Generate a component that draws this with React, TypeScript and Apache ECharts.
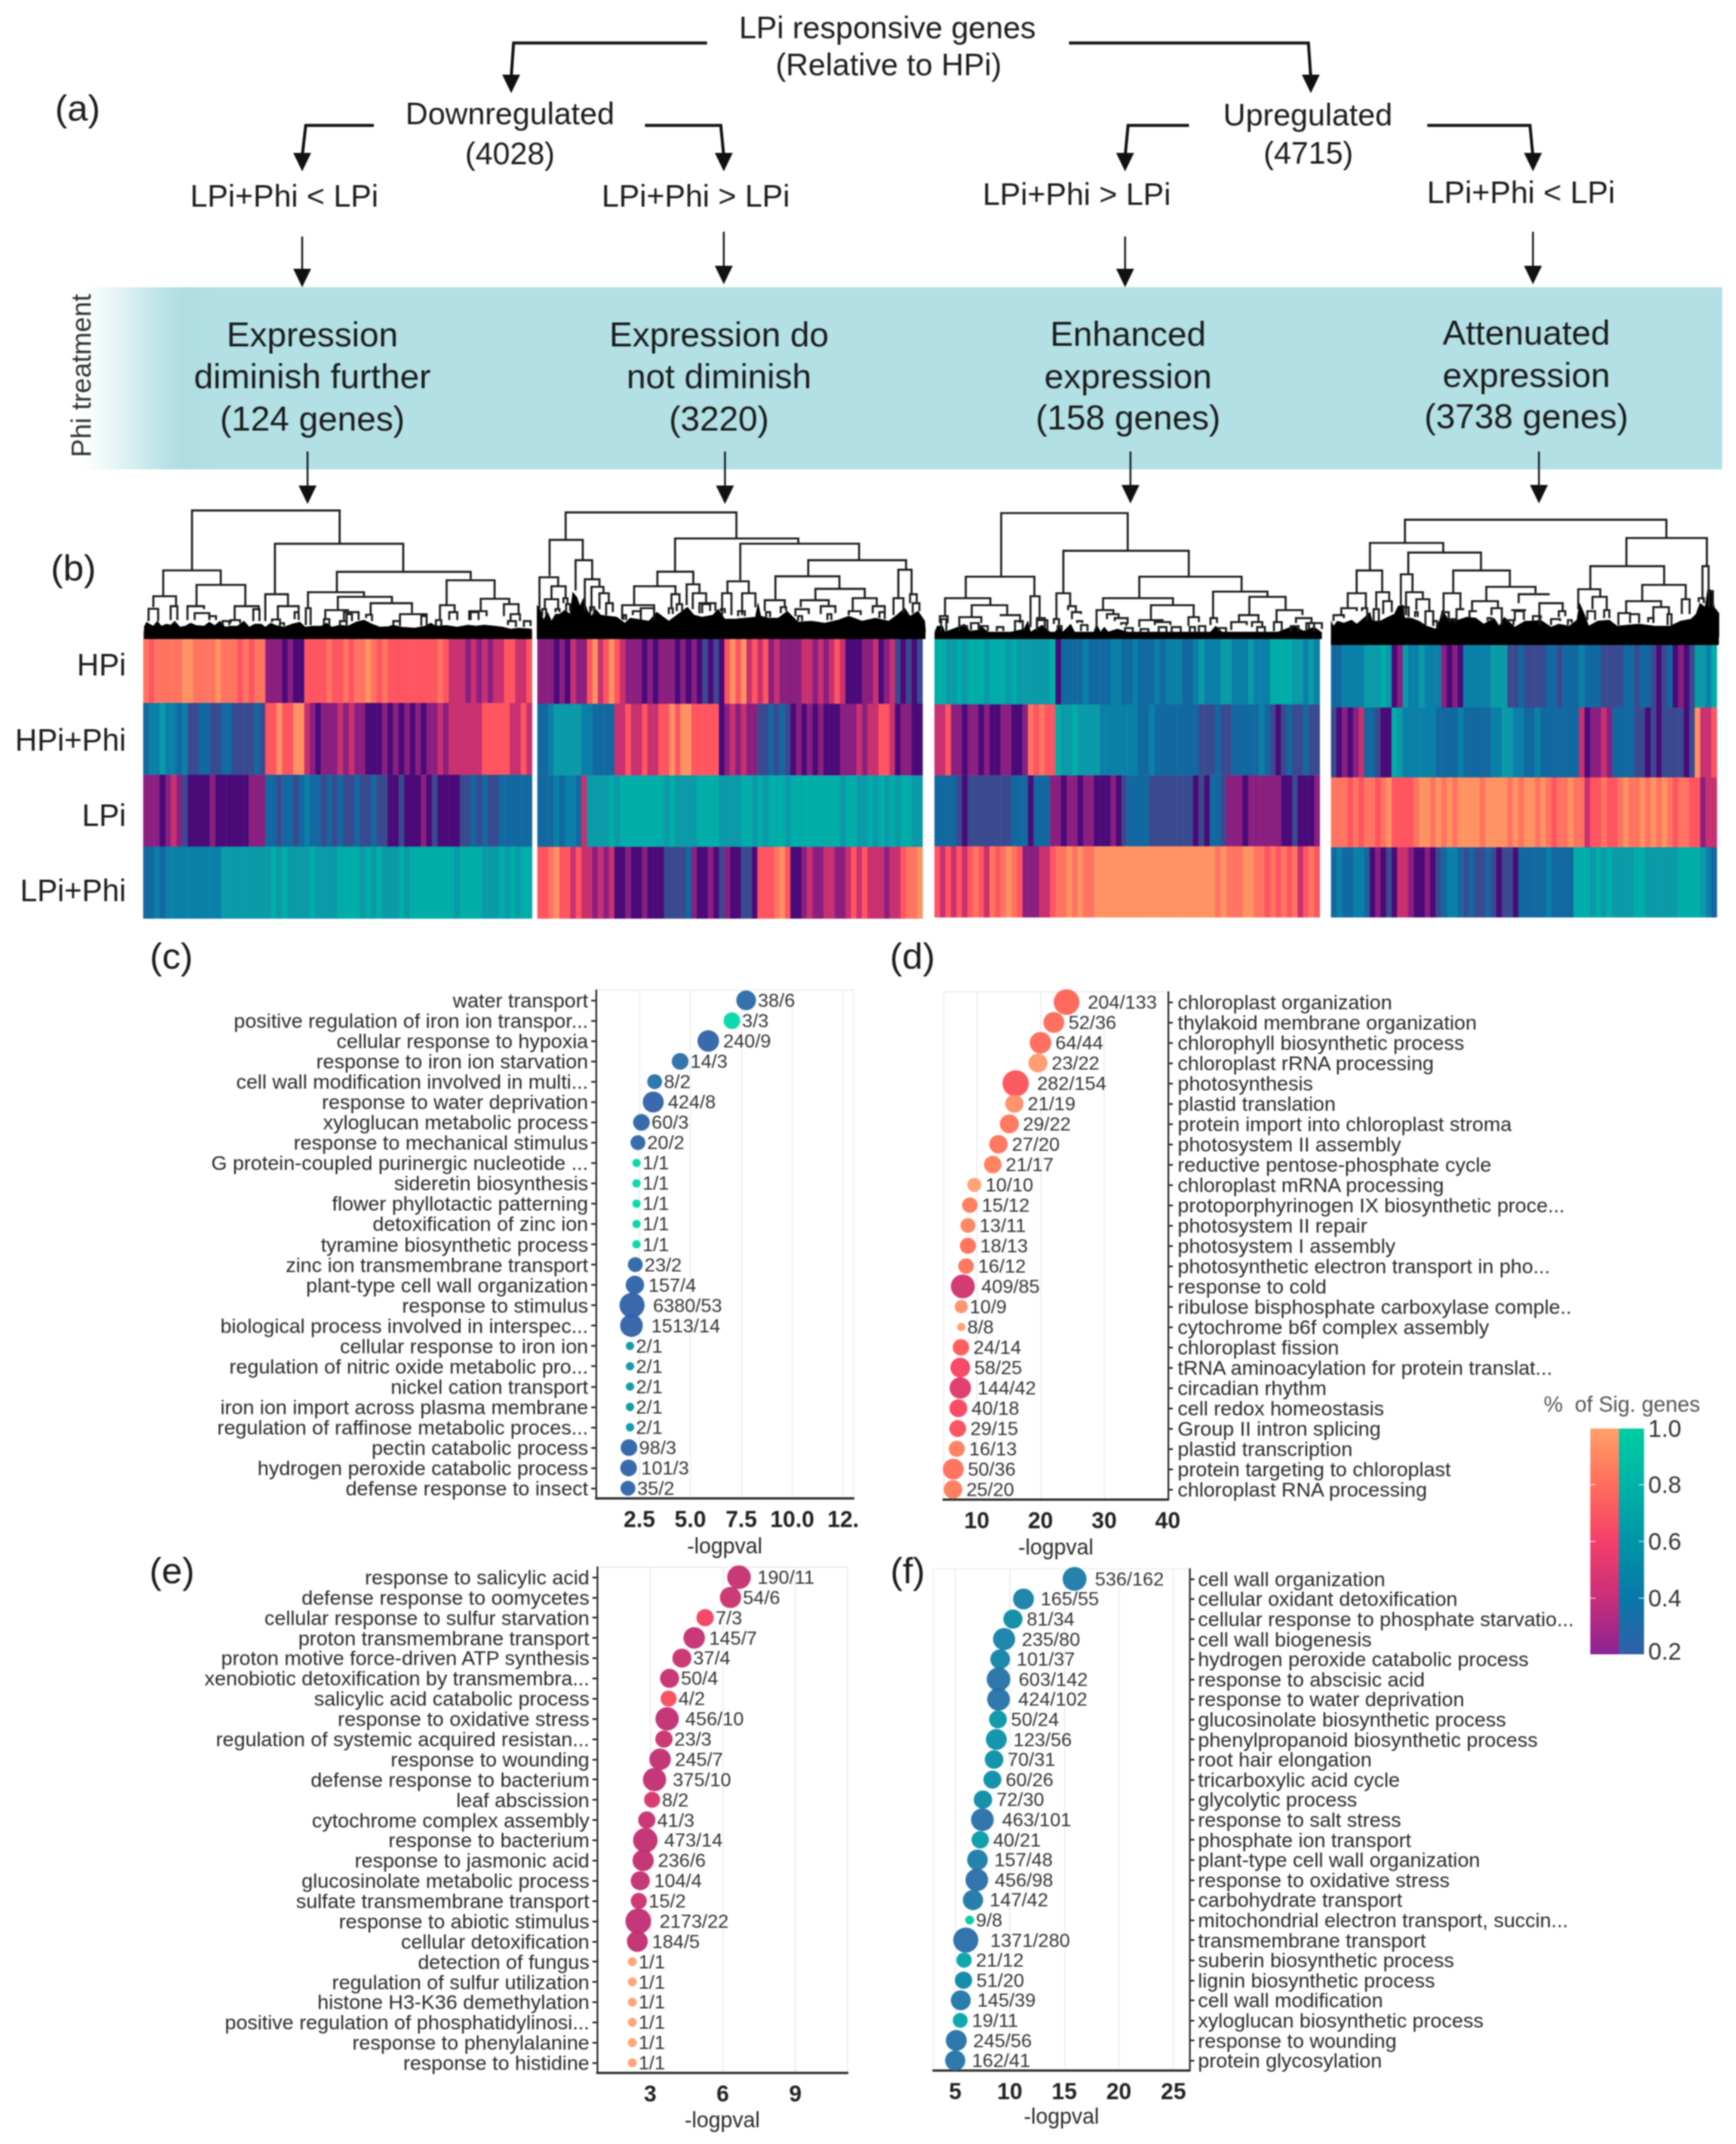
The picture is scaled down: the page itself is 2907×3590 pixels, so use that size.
import React, { useEffect, useRef } from "react";
import * as echarts from "echarts";

const FONT = "Liberation Sans";

// ---------- panel (c)
const termsC = ["water transport","positive regulation of iron ion transpor...","cellular response to hypoxia","response to iron ion starvation","cell wall modification involved in multi...","response to water deprivation","xyloglucan metabolic process","response to mechanical stimulus","G protein-coupled purinergic nucleotide ...","sideretin biosynthesis","flower phyllotactic patterning","detoxification of zinc ion","tyramine biosynthetic process","zinc ion transmembrane transport","plant-type cell wall organization","response to stimulus","biological process involved in interspec...","cellular response to iron ion","regulation of nitric oxide metabolic pro...","nickel cation transport","iron ion import across plasma membrane","regulation of raffinose metabolic proces...","pectin catabolic process","hydrogen peroxide catabolic process","defense response to insect"];
const logpC = [7.74,7.04,5.88,4.5,3.25,3.18,2.6,2.43,2.36,2.36,2.36,2.36,2.36,2.3,2.28,2.14,2.11,2.04,2.04,2.04,2.04,2.04,1.99,1.97,1.94];
const countsC = ["38/6","3/3","240/9","14/3","8/2","424/8","60/3","20/2","1/1","1/1","1/1","1/1","1/1","23/2","157/4","6380/53","1513/14","2/1","2/1","2/1","2/1","2/1","98/3","101/3","35/2"];
// ---------- panel (d)
const termsD = ["chloroplast organization","thylakoid membrane organization","chlorophyll biosynthetic process","chloroplast rRNA processing","photosynthesis","plastid translation","protein import into chloroplast stroma","photosystem II assembly","reductive pentose-phosphate cycle","chloroplast mRNA processing","protoporphyrinogen IX biosynthetic proce...","photosystem II repair","photosystem I assembly","photosynthetic electron transport in pho...","response to cold","ribulose bisphosphate carboxylase comple..","cytochrome b6f complex assembly","chloroplast fission","tRNA aminoacylation for protein translat...","circadian rhythm","cell redox homeostasis","Group II intron splicing","plastid transcription","protein targeting to chloroplast","chloroplast RNA processing"];
const logpD = [24.1,22.1,20,19.6,16.1,15.9,15.1,13.4,12.5,9.6,8.9,8.6,8.6,8.3,7.8,7.55,7.55,7.5,7.4,7.4,7.1,7,6.85,6.3,6.25];
const countsD = ["204/133","52/36","64/44","23/22","282/154","21/19","29/22","27/20","21/17","10/10","15/12","13/11","18/13","16/12","409/85","10/9","8/8","24/14","58/25","144/42","40/18","29/15","16/13","50/36","25/20"];
// ---------- panel (e)
const termsE = ["response to salicylic acid","defense response to oomycetes","cellular response to sulfur starvation","proton transmembrane transport","proton motive force-driven ATP synthesis","xenobiotic detoxification by transmembra...","salicylic acid catabolic process","response to oxidative stress","regulation of systemic acquired resistan...","response to wounding","defense response to bacterium","leaf abscission","cytochrome complex assembly","response to bacterium","response to jasmonic acid","glucosinolate metabolic process","sulfate transmembrane transport","response to abiotic stimulus","cellular detoxification","detection of fungus","regulation of sulfur utilization","histone H3-K36 demethylation","positive regulation of phosphatidylinosi...","response to phenylalanine","response to histidine"];
const logpE = [6.67,6.32,5.27,4.82,4.31,3.8,3.76,3.7,3.57,3.41,3.18,3.08,2.86,2.8,2.71,2.59,2.53,2.51,2.47,2.26,2.26,2.26,2.26,2.26,2.26];
const countsE = ["190/11","54/6","7/3","145/7","37/4","50/4","4/2","456/10","23/3","245/7","375/10","8/2","41/3","473/14","236/6","104/4","15/2","2173/22","184/5","1/1","1/1","1/1","1/1","1/1","1/1"];
// ---------- panel (f)
const termsF = ["cell wall organization","cellular oxidant detoxification","cellular response to phosphate starvatio...","cell wall biogenesis","hydrogen peroxide catabolic process","response to abscisic acid","response to water deprivation","glucosinolate biosynthetic process","phenylpropanoid biosynthetic process","root hair elongation","tricarboxylic acid cycle","glycolytic process","response to salt stress","phosphate ion transport","plant-type cell wall organization","response to oxidative stress","carbohydrate transport","mitochondrial electron transport, succin...","transmembrane transport","suberin biosynthetic process","lignin biosynthetic process","cell wall modification","xyloglucan biosynthetic process","response to wounding","protein glycosylation"];
const logpF = [15.94,11.26,10.29,9.48,9.12,8.97,8.97,8.92,8.77,8.56,8.41,7.54,7.49,7.29,7.04,6.98,6.63,6.32,5.97,5.81,5.76,5.51,5.46,5.1,5];
const countsF = ["536/162","165/55","81/34","235/80","101/37","603/142","424/102","50/24","123/56","70/31","60/26","72/30","463/101","40/21","157/48","456/98","147/42","9/8","1371/280","21/12","51/20","145/39","19/11","245/56","162/41"];

// significant-gene count -> bubble diameter, per panel
const sizeKeyC = [[1,14],[2,25],[3,28],[4,31],[6,33],[9,36],[14,38],[53,42]];
const sizeKeyD = [[8,14],[9,22],[11,25],[13,27],[18,30],[25,33],[44,36],[85,40],[154,44]];
const sizeKeyE = [[1,15],[2,27],[3,29],[4,32],[5,35],[7,36],[10,39],[14,41],[22,43]];
const sizeKeyF = [[8,15],[11,25],[20,29],[30,31],[42,34],[56,35],[80,37],[100,38],[162,40],[280,42]];

const rowNames = ["HPi","HPi+Phi","LPi","LPi+Phi"];
const rowLabelY = [1113,1239,1365,1491];
// heatmap rows: each character is one column's expression level, 0 (teal) .. 9 (orange), c = 8.5
const heat1 = [
  "c8ccccc99cccc9ccc8c8cc 6665655 8888c88c8c c9c8c 88888888 8c8 7776767 677 88778",
  "32212232 443344 33444434 8898899 76566676766 555656565656 676777 77788888 7787",
  "6665676 4555 5655 5555666 3343343233 434344344344 55455565455554 434344 333333",
  "33232222222222 11111111101011110111100001010111010000000010000111010100",
];
const heat2 = [
  "66565766 897898 7666565665656 54545 89897878 6766677676787 55566756745 454",
  "33211111223333 7787787788989988888 5676766 443434 5656565556 66767788756 655",
  "33232237 1111010000000101111000011100101000100000000100110101010011",
  "8c98878 776767 556556555 44443 655654655445 888c98 5567667766 78787776778cc9",
];
const heat3 = [
  "011010001000101111110 5333323333223323332322233 21222112221222 0000 11212",
  "7866566565566556 c8c88 0110111122222223323333333 3444344 3333323 454344344",
  "333 454 4444444333 5333 66566566 55565 433344444444 545 334 6665666666 5545556",
  "8787878c87c8c9c8 66677 8ccc9c9cc999999999999999999c9999c9ccc99cc8c8c8c78c8c",
];
const heat4 = [
  "33222211101 56 1221222 6565 22222111 443444433433 323334444334 3345435654 1120",
  "45656733455 0122222233332333332211223323333333 756676 333344545444454 9778",
  "cc8c8cc8c98888c99c9c9c9999c9999c9c9c9c8cc9cc 7 88c88 c9cc9c9c9c8cc88 677",
  "3233223 5654577655654 3223434434544533 33323333 000101011110011111100001 233",
];

// upper dendrogram merges: [left x, left child height, right x, right child height, merge height]
const links1 = [[348,320,615,228,113],[296,408,400,368,320],[498,400,730,325,228],[610,392,852,350,325]];
const links2 = [[1024,215,1333,210,120],[995,340,1055,285,215],[1042,390,1072,350,285],[1222,325,1445,228,210],[1190,375,1255,368,325],[1340,355,1555,285,228],[1463,340,1640,318,285],[1626,420,1650,400,318]];
const links3 = [[244,342,472,252,122],[356,400,582,342,252]];
const links4 = [[971,225,1442,208,145],[908,320,1040,258,225],[977,330,1108,320,258],[1058,400,1160,378,320],[884,400,930,395,320],[1370,305,1515,305,208],[1305,385,1438,370,305],[1507,420,1518,400,305]];

// lower dendrogram merges, same layout, at the finer resolution of the leaf ends
const lower1 = [
  [60,170,145,165,115],[42,240,78,240,178],[125,235,150,235,165],[222,165,405,165,58],[188,235,250,180,165],[215,235,270,235,200],[270,230,295,235,215],[365,235,455,185,165],[435,240,458,240,180],[320,260,345,260,240],[350,250,385,250,235],
  [480,240,565,165,105],[527,235,605,190,165],[590,230,605,235,195],[505,245,535,245,232],[535,265,550,265,250],
  [632,260,650,260,175],[705,235,790,190,185],[775,235,830,235,195],[700,260,720,260,230],[760,265,785,265,240],[785,240,805,240,205],[640,175,850,118,95],[752,185,955,150,118],
  [875,210,1030,200,150],[858,225,880,240,208],[985,240,1085,215,205],[1065,265,1085,265,215],[960,265,985,265,240],
  [1160,160,1340,128,35],[1135,235,1190,195,160],[1170,235,1200,235,195],[1120,265,1140,265,235],[1288,190,1395,155,128],[1245,235,1310,215,190],[1250,235,1280,235,195],[1375,215,1430,205,155],[1400,240,1435,240,205],[1390,260,1420,270,240],[1450,270,1475,265,240],
];
const lower2 = [
  [30,175,100,65,20],[75,130,128,125,65],[50,180,100,180,130],[120,150,135,150,125],[40,215,55,215,180],[90,195,105,195,180],[130,190,145,190,155],
  [200,190,255,68,30],[225,190,270,100,68],[255,180,290,150,100],[280,210,305,195,150],[220,210,235,210,170],
  [385,160,540,105,65],[340,230,460,190,160],[380,210,410,210,190],[410,235,460,235,175],[345,235,355,235,210],[525,170,555,160,105],[515,205,530,205,175],[545,190,565,190,155],
  [582,160,630,100,55],[605,180,655,150,100],[630,200,690,190,150],[640,200,670,190,155],
  [735,100,815,100,40],[715,210,750,210,100],[790,210,840,170,100],[775,215,800,215,190],[710,190,725,200,180],
  [915,130,1155,75,15],[1065,135,1250,120,78],[875,190,950,170,135],[1010,170,1115,160,135],[1205,185,1295,160,125],[1190,210,1235,210,190],[1280,200,1325,195,165],[880,220,895,220,195],[935,200,955,190,170],[990,215,1040,205,180],[1085,205,1140,200,165],[1000,240,1015,240,215],[1110,235,1125,235,205],[1305,225,1325,230,195],
  [1358,210,1395,200,125],[1420,150,1445,150,105],[1430,200,1455,190,150],
];
const lower3 = [
  [155,125,420,115,17],[75,215,250,160,125],[178,220,315,210,160],[130,265,215,250,220],[290,215,365,250,210],[55,250,85,250,215],[405,270,440,225,115],[430,270,460,270,225],
  [505,225,558,165,100],[495,255,515,260,230],[550,185,580,195,165],[565,230,600,205,195],[585,250,605,250,240],[510,290,525,290,265],
  [825,125,1220,92,17],[685,185,955,160,125],[660,280,725,205,185],[700,230,745,225,205],[730,240,780,255,225],[755,260,775,265,250],
  [870,235,1035,220,160],[825,270,915,245,235],[885,260,945,260,245],[1015,265,1055,245,220],
  [1110,225,1320,118,92],[1100,260,1125,250,225],[1250,210,1390,185,118],[1210,240,1285,245,210],[1180,285,1240,260,245],[1260,270,1300,265,245],
  [1355,250,1455,210,185],[1430,250,1490,250,225],[1345,290,1375,290,245],[1480,280,1530,280,250],
  [60,290,80,290,230],[130,290,160,280,265],[175,285,205,285,250],[205,290,240,290,265],[275,290,300,290,270],[345,290,375,285,240],[430,290,470,290,235],[600,290,625,290,260],[770,295,800,295,275],[830,295,860,295,280],[900,295,930,295,270],[950,295,985,295,270],[1020,295,1040,295,270],[1055,295,1080,295,265],[1130,295,1160,295,275],[1280,295,1310,295,270],[1410,295,1440,295,265],[1470,295,1500,295,250],
];
const lower4 = [
  [85,175,155,175,100],[195,175,245,140,95],[222,205,255,195,140],[60,215,120,190,175],[30,240,70,225,210],[140,190,160,240,175],[185,240,205,240,180],
  [290,160,335,95,5],[310,210,375,125,95],[350,185,400,190,130],[385,260,415,250,190],[300,220,320,220,170],[345,220,355,220,195],[415,265,430,275,240],
  [455,190,520,180,100],[450,225,475,235,195],[505,235,535,180,180],[480,245,500,250,230],
  [620,140,810,100,68],[565,190,665,175,140],[745,150,865,105,105],[720,190,770,190,185],[825,260,915,190,150],[640,210,680,260,175],[555,225,580,195,190],[625,240,640,240,225],[800,240,830,230,215],[900,220,925,215,190],[870,260,905,240,230],[935,260,950,250,235],[730,240,765,235,190],[700,250,725,260,235],
  [975,180,1060,115,80],[1030,180,1085,185,118],[1010,235,1040,235,190],[1075,225,1095,225,185],
  [1222,135,1390,130,58],[1160,195,1295,165,140],[1265,245,1325,210,170],[1130,260,1175,205,200],[1175,250,1210,250,205],[1245,245,1265,250,225],[1320,260,1335,260,205],[1375,205,1405,205,130],
  [1440,145,1460,150,125],[1480,170,1495,170,90],
];
// top edge of the solid black mass of leaf ends
const envelope1 = [[25,270],[35,245],[45,255],[60,265],[75,240],[90,265],[110,255],[125,260],[140,240],[160,270],[180,265],[200,250],[220,262],[250,265],[270,245],[290,262],[310,240],[330,270],[350,265],[375,265],[400,240],[420,270],[440,255],[465,255],[480,270],[500,250],[520,262],[550,270],[580,255],[610,245],[630,270],[660,265],[690,265],[710,250],[730,270],[760,260],[790,265],[820,245],[850,235],[880,255],[910,270],[940,268],[960,260],[990,270],[1040,275],[1080,265],[1100,250],[1120,265],[1160,262],[1200,270],[1240,260],[1270,265],[1300,260],[1340,265],[1370,270],[1400,280],[1430,275],[1480,280]];
const envelope2 = [[20,160],[30,175],[45,235],[60,195],[75,240],[90,205],[105,205],[125,185],[145,205],[155,95],[170,120],[182,165],[195,125],[210,190],[225,215],[240,180],[260,210],[290,215],[320,220],[350,250],[370,225],[395,230],[440,240],[470,195],[500,225],[515,240],[530,225],[560,195],[585,170],[610,210],[640,220],[680,210],[700,180],[725,230],[760,230],[800,225],[840,220],[850,150],[860,215],[890,225],[925,225],[960,190],[1000,245],[1050,240],[1100,250],[1150,235],[1190,215],[1240,240],[1290,225],[1340,240],[1370,210],[1400,175],[1420,215],[1450,190],[1475,240],[1478,295]];
const envelope3 = [[35,298],[45,265],[65,265],[75,295],[125,270],[150,255],[170,290],[205,285],[215,265],[240,295],[330,295],[380,280],[395,240],[405,295],[450,260],[480,295],[500,295],[515,265],[530,295],[560,255],[575,295],[650,295],[660,255],[675,295],[690,270],[705,295],[740,280],[780,295],[1100,295],[1120,265],[1145,295],[1220,295],[1360,295],[1420,265],[1460,290],[1500,270],[1530,298]];
const envelope4 = [[20,240],[30,265],[45,240],[70,250],[100,235],[120,255],[155,215],[170,195],[180,240],[210,240],[240,220],[265,205],[280,165],[300,160],[305,225],[330,225],[360,240],[390,265],[425,280],[440,235],[450,185],[475,235],[510,235],[545,220],[580,225],[610,255],[650,225],[670,265],[690,220],[730,270],[770,240],[800,240],[830,235],[870,270],[900,255],[940,265],[970,235],[980,150],[1000,210],[1015,265],[1050,240],[1095,235],[1125,265],[1165,260],[1210,255],[1270,265],[1330,265],[1370,240],[1410,230],[1430,205],[1445,150],[1465,170],[1475,80],[1490,85],[1500,170],[1518,200],[1518,320]];

const xTicksC = [2.5,5,7.5,10,12.5];
const xTickTextC = ["2.5","5.0","7.5","10.0","12."];
const xTicksD = [10,20,30,40];
const xTicksE = [3,6,9];
const xTicksF = [5,10,15,20,25];

const heatScale = ["#00ada8","#0a9aa8","#0a80a8","#1268a0","#3a4a90","#4a0a78","#8a1f80","#c93070","#ff5560","#ff9262"];
const coolScale = ["#2f60a8","#2a6ca8","#0a88a8","#00a8a8","#00c0a8","#00d8a8"];
const warmScale = ["#c02d72","#d0306c","#f53a62","#ff5a55","#ff7a58","#ffa070"];

function sizeFor(sig: number, key: number[][]) {
  const l = Math.log(sig);
  if (sig <= key[0][0]) return key[0][1];
  for (let i = 1; i < key.length; i++) {
    if (sig <= key[i][0]) {
      const a = Math.log(key[i - 1][0]), b = Math.log(key[i][0]);
      return key[i - 1][1] + ((l - a) / (b - a)) * (key[i][1] - key[i - 1][1]);
    }
  }
  return key[key.length - 1][1];
}
function gapFor(t: string) {
  if (t.length <= 4) return 3;
  if (t.length === 5) return 7;
  if (t.length === 6) return 11;
  if (t.length === 7) return 14;
  return 20;
}
function bubbles(xi: number, logp: number[], counts: string[], key: number[][]) {
  return {
    type: "scatter", xAxisIndex: xi, yAxisIndex: xi, z: 5,
    itemStyle: { opacity: 0.95 },
    data: logp.map((v, i) => {
      const [tot, sig] = counts[i].split("/").map(Number);
      return {
        value: [v, i, sig / tot], name: counts[i],
        symbolSize: sizeFor(sig, key),
        label: { show: true, position: "right", distance: gapFor(counts[i]), formatter: counts[i], fontSize: 32, fontFamily: FONT, color: "#2a2a2a" },
      };
    }),
  };
}
function heatData(rows: string[]) {
  const N = 70;
  const out: number[][] = [];
  rows.forEach((r, y) => {
    const s = r.replace(/\s/g, "");
    for (let x = 0; x < N; x++) {
      const ch = s[Math.floor((x * s.length) / N)];
      out.push([x, y, ch === "c" ? 8.5 : Number(ch)]);
    }
  });
  return out;
}
function dendro(gi: number, links: number[][]) {
  return {
    type: "custom", xAxisIndex: gi, yAxisIndex: gi, z: 4, silent: true,
    encode: { x: [0, 2], y: [1, 3, 4] },
    data: links,
    renderItem: (_p: any, api: any) => {
      const a = api.coord([api.value(0), api.value(1)]);
      const b = api.coord([api.value(0), api.value(4)]);
      const c = api.coord([api.value(2), api.value(4)]);
      const d = api.coord([api.value(2), api.value(3)]);
      return { type: "polyline", shape: { points: [a, b, c, d] }, style: { stroke: "#1c1c1c", lineWidth: 3.4, fill: "none" } };
    },
  };
}

const arrowBent = [
  [[1184,72],[860,72],[856,130]], [[1790,72],[2191,72],[2195,130]],
  [[626,210],[512,210],[506,262]], [[1080,210],[1207,210],[1212,262]],
  [[1991,210],[1889,210],[1884,262]], [[2390,210],[2562,210],[2567,262]],
];
const arrowTips = [[856,156],[2195,156],[506,287],[1212,287],[1884,287],[2567,287],[506,481],[1212,476],[1884,481],[2567,476],[515,844],[1214,844],[1893,843],[2577,843]];
const arrowStraight = [[506,396,460],[1212,388,455],[1884,396,460],[2567,388,455],[515,756,820],[1214,756,820],[1893,756,820],[2577,756,820]];

const flowText: [string, number, number, number][] = [
  ["LPi responsive genes",1486,46,52],["(Relative to HPi)",1488,108,52],
  ["Downregulated",854,190,52],["(4028)",854,257,52],["LPi+Phi < LPi",476,328,52],["LPi+Phi > LPi",1165,328,52],
  ["Upregulated",2190,192,52],["(4715)",2191,256,52],["LPi+Phi > LPi",1803,325,52],["LPi+Phi < LPi",2547,322,52],
  ["Expression",523,559,58],["diminish further",523,629,58],["(124 genes)",523,700,58],
  ["Expression do",1204,559,58],["not diminish",1204,629,58],["(3220)",1204,700,58],
  ["Enhanced",1889,558,58],["expression",1889,629,58],["(158 genes)",1889,698,58],
  ["Attenuated",2556,556,58],["expression",2556,627,58],["(3738 genes)",2556,696,58],
  ["(a)",130,180,62],["(b)",123,950,62],["(c)",287,1600,62],["(d)",1528,1600,62],["(e)",288,2629,62],["(f)",1520,2629,62],
];
const legendTicks = [["1.0",2392],["0.8",2486],["0.6",2581],["0.4",2676],["0.2",2765]] as [string, number][];

function buildGraphic() {
  const els: any[] = [];
  els.push({ type: "rect", z: 0, shape: { x: 139, y: 481, width: 2745, height: 305 },
    style: { fill: new echarts.graphic.LinearGradient(0, 0, 1, 0, [
      { offset: 0, color: "#ffffff" }, { offset: 0.02, color: "#e6f4f6" }, { offset: 0.045, color: "#c0e5e9" }, { offset: 0.062, color: "#aeddE2" }, { offset: 0.08, color: "#b2e0e5" }, { offset: 1, color: "#b2e0e5" },
    ]) } });
  arrowBent.forEach((p) => els.push({ type: "polyline", z: 3, shape: { points: p }, style: { stroke: "#111", lineWidth: 5, fill: "none" } }));
  arrowStraight.forEach(([x, a, b]) => els.push({ type: "line", z: 3, shape: { x1: x, y1: a, x2: x, y2: b }, style: { stroke: "#111", lineWidth: 3 } }));
  arrowTips.forEach(([x, y]) => els.push({ type: "polygon", z: 3, shape: { points: [[x, y], [x - 15, y - 31], [x + 15, y - 31]] }, style: { fill: "#111" } }));
  flowText.forEach(([t, x, y, s]) => els.push({ type: "text", z: 4, x, y, style: { text: t, fontSize: s, fontFamily: FONT, fill: "#1c1c1c", align: "center", verticalAlign: "middle" } }));
  rowNames.forEach((t, i) => els.push({ type: "text", z: 4, x: 211, y: rowLabelY[i], style: { text: t, fontSize: 51, fontFamily: FONT, fill: "#1c1c1c", align: "right", verticalAlign: "middle" } }));
  els.push({ type: "text", z: 4, x: 136, y: 629, rotation: Math.PI / 2, style: { text: "Phi treatment", fontSize: 46, fontFamily: FONT, fill: "#333", align: "center", verticalAlign: "middle" } });
  els.push({ type: "text", z: 4, x: 2716, y: 2351, style: { text: "%  of Sig. genes", fontSize: 36, fontFamily: FONT, fill: "#555", align: "center", verticalAlign: "middle" } });
  els.push({ type: "rect", z: 3, shape: { x: 2663, y: 2392, width: 48, height: 378 },
    style: { fill: new echarts.graphic.LinearGradient(0, 0, 0, 1, [
      { offset: 0, color: "#ffa068" }, { offset: 0.25, color: "#ff6d5c" }, { offset: 0.5, color: "#f43f6a" }, { offset: 0.75, color: "#c92f78" }, { offset: 1, color: "#8c2296" },
    ]) } });
  els.push({ type: "rect", z: 3, shape: { x: 2711, y: 2392, width: 42, height: 378 },
    style: { fill: new echarts.graphic.LinearGradient(0, 0, 0, 1, [
      { offset: 0, color: "#00cda2" }, { offset: 0.25, color: "#00b3a8" }, { offset: 0.5, color: "#0095a8" }, { offset: 0.75, color: "#0a78a8" }, { offset: 1, color: "#3060a8" },
    ]) } });
  legendTicks.forEach(([t, y]) => {
    els.push({ type: "text", z: 4, x: 2760, y, style: { text: t, fontSize: 40, fontFamily: FONT, fill: "#333", align: "left", verticalAlign: "middle" } });
    if (t !== "1.0" && t !== "0.2") {
      els.push({ type: "line", z: 4, shape: { x1: 2663, y1: y, x2: 2672, y2: y }, style: { stroke: "rgba(255,255,255,.6)", lineWidth: 2 } });
      els.push({ type: "line", z: 4, shape: { x1: 2744, y1: y, x2: 2753, y2: y }, style: { stroke: "rgba(255,255,255,.6)", lineWidth: 2 } });
    }
  });
  return els;
}

function bubbleX(min: number, max: number, ticks: number[], gridIndex: number, nameGap: number, labelText?: string[]) {
  return {
    type: "value", gridIndex, min, max,
    name: "-logpval", nameLocation: "middle", nameGap,
    nameTextStyle: { fontSize: 36, fontFamily: FONT, color: "#2a2a2a" },
    axisLine: { show: true, onZero: false, lineStyle: { color: "#333", width: 4 } },
    axisTick: { show: false, customValues: ticks },
    axisLabel: { customValues: ticks, fontSize: 38, fontWeight: "bold", fontFamily: FONT, color: "#222", margin: 16,
      formatter: (v: number) => { const i = ticks.indexOf(v); return labelText ? labelText[i] : String(v); } },
    splitLine: { show: true, lineStyle: { color: "#ececec", width: 2 } },
  };
}
function bubbleY(terms: string[], gridIndex: number, right: boolean, margin: number) {
  return {
    type: "category", gridIndex, data: terms, inverse: true, position: right ? "right" : "left",
    axisLine: { show: true, onZero: false, lineStyle: { color: "#333", width: 3 } },
    axisTick: { show: true, alignWithLabel: true, length: 8, lineStyle: { color: "#333", width: 3 } },
    axisLabel: { interval: 0, fontSize: 34, fontFamily: FONT, color: "#2a2a2a", margin },
    splitLine: { show: false },
  };
}
const cols70 = Array.from({ length: 70 }, (_, i) => String(i));

export default function App() {
  const ref = useRef<HTMLDivElement>(null);
  useEffect(() => {
    document.body.style.margin = "0";
    const chart = echarts.init(ref.current!, undefined, { renderer: "svg" });
    const heatGrids = [
      { left: 240, top: 1057, width: 651, height: 481 },
      { left: 900, top: 1059, width: 645, height: 479 },
      { left: 1565, top: 1061, width: 645, height: 475 },
      { left: 2229, top: 1068, width: 646, height: 468 },
    ];
    const dendroGrids = [
      { left: 240, top: 829, width: 651, height: 228 },
      { left: 900, top: 829, width: 645, height: 230 },
      { left: 1565, top: 829, width: 645, height: 232 },
      { left: 2229, top: 829, width: 646, height: 239 },
    ];
    const leafGrids = [
      { left: 230, top: 960, width: 700, height: 110 },
      { left: 890, top: 960, width: 700, height: 110 },
      { left: 1550, top: 960, width: 680, height: 110 },
      { left: 2220, top: 960, width: 680, height: 120 },
    ];
    const leafMaxY = [330, 330, 330, 360];
    const dendroRange = [[260, 963, 60, 530], [973, 1670, 60, 535], [124, 818, 60, 538], [838, 1533, 60, 552]];
    const bubbleBorder = { show: true, borderColor: "#ececec", borderWidth: 2, containLabel: false };
    const option: any = {
      animation: false,
      backgroundColor: "#fff",
      textStyle: { fontFamily: FONT },
      grid: [
        { left: 998, top: 1658, width: 431, height: 851, ...bubbleBorder },
        { left: 1580, top: 1661, width: 376, height: 850, ...bubbleBorder },
        { left: 1000, top: 2624, width: 419, height: 847, ...bubbleBorder },
        { left: 1563, top: 2627, width: 429, height: 840, ...bubbleBorder },
        ...heatGrids, ...dendroGrids, ...leafGrids,
      ],
      xAxis: [
        bubbleX(0.37, 13, xTicksC, 0, 61, xTickTextC),
        bubbleX(4.77, 40.05, xTicksD, 1, 61),
        bubbleX(0.81, 11.15, xTicksE, 2, 60),
        bubbleX(3, 26.48, xTicksF, 3, 58),
        ...heatGrids.map((_, i) => ({ type: "category", gridIndex: 4 + i, data: cols70, show: false })),
        ...dendroRange.map((r, i) => ({ type: "value", gridIndex: 8 + i, min: r[0], max: r[1], show: false, splitLine: { show: false } })),
        ...leafGrids.map((_, i) => ({ type: "value", gridIndex: 12 + i, min: 0, max: 1568, show: false, splitLine: { show: false } })),
      ],
      yAxis: [
        bubbleY(termsC, 0, false, 13), bubbleY(termsD, 1, true, 16), bubbleY(termsE, 2, false, 13), bubbleY(termsF, 3, true, 14),
        ...heatGrids.map((_, i) => ({ type: "category", gridIndex: 4 + i, data: rowNames, inverse: true, show: false })),
        ...dendroRange.map((r, i) => ({ type: "value", gridIndex: 8 + i, min: r[2], max: r[3], inverse: true, show: false, splitLine: { show: false } })),
        ...leafGrids.map((_, i) => ({ type: "value", gridIndex: 12 + i, min: 0, max: leafMaxY[i], inverse: true, show: false, splitLine: { show: false } })),
      ],
      visualMap: [
        { show: false, type: "continuous", seriesIndex: [0, 3], dimension: 2, min: 0, max: 1, inRange: { color: coolScale } },
        { show: false, type: "continuous", seriesIndex: [1, 2], dimension: 2, min: 0, max: 1, inRange: { color: warmScale } },
        { show: false, type: "continuous", seriesIndex: [4, 5, 6, 7], dimension: 2, min: 0, max: 9, inRange: { color: heatScale } },
      ],
      series: [
        bubbles(0, logpC, countsC, sizeKeyC),
        bubbles(1, logpD, countsD, sizeKeyD),
        bubbles(2, logpE, countsE, sizeKeyE),
        bubbles(3, logpF, countsF, sizeKeyF),
        ...[heat1, heat2, heat3, heat4].map((rows, i) => ({
          type: "heatmap", xAxisIndex: 4 + i, yAxisIndex: 4 + i, data: heatData(rows),
          itemStyle: { borderWidth: 0 }, emphasis: { disabled: true },
        })),
        dendro(8, links1), dendro(9, links2), dendro(10, links3), dendro(11, links4),
        dendro(12, lower1), dendro(13, lower2), dendro(14, lower3), dendro(15, lower4),
        ...[envelope1, envelope2, envelope3, envelope4].map((env, i) => ({
          type: "line", xAxisIndex: 12 + i, yAxisIndex: 12 + i, data: env, symbol: "none", silent: true, z: 3,
          lineStyle: { color: "#000", width: 1 }, itemStyle: { color: "#000" },
          areaStyle: { origin: "end", color: "#000", opacity: 1 },
        })),
      ],
      graphic: { elements: buildGraphic() },
    };
    chart.setOption(option);
    return () => chart.dispose();
  }, []);
  return <div ref={ref} style={{ width: 2907, height: 3590, filter: "blur(1.1px)" }} />;
}
